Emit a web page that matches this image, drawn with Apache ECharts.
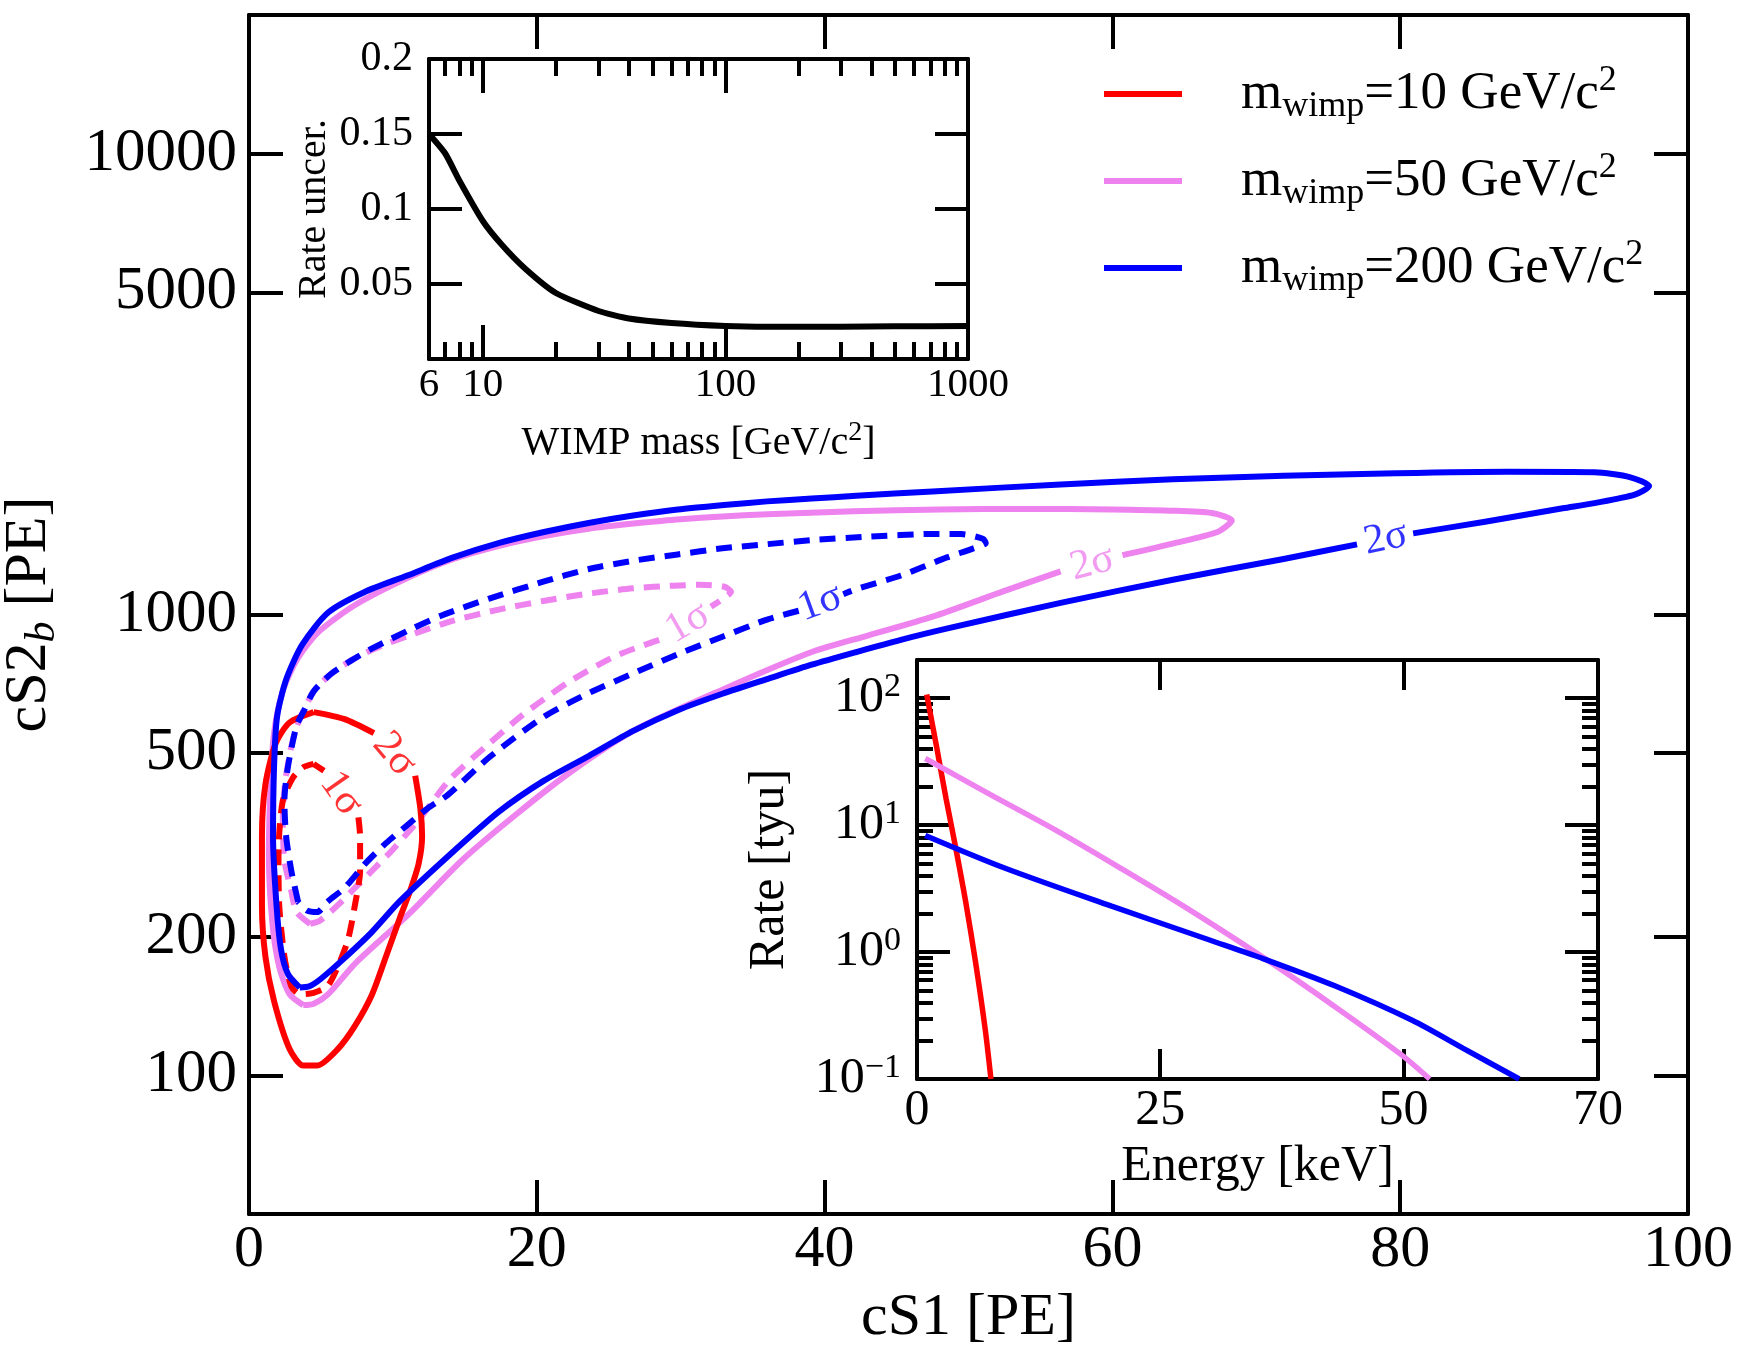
<!DOCTYPE html>
<html><head><meta charset="utf-8">
<script src="https://cdn.jsdelivr.net/npm/echarts@6/dist/echarts.min.js"></script>
<style>html,body{margin:0;padding:0;background:#fff}#c{width:1751px;height:1364px}</style>
</head><body><div id="c"></div>
<script>
const FONT = '"Liberation Serif","Times New Roman",serif';

// ---------- main panel: contours (cS1 [PE], cS2b [PE]) ; null = gap for inline label ----------
const red2Sigma = [[4.49,614],[6.64,593],[8.68,553],null,[11.55,447],[11.91,379],[12.03,330],[11.79,288],[11.19,251],[10.47,219],[9.52,181],[8.56,150],[7.36,128],[6.17,114],[4.73,105],[3.77,105],[2.82,114],[1.74,145],[1.14,181],[0.90,234],[0.90,330],[1.14,428],[1.86,526],[2.82,583],[4.49,614]];
const red1Sigma = [[4.49,474],[5.21,458],null,[7.60,363],[7.72,330],[7.72,278],[7.36,234],[6.88,197],[6.17,172],[5.45,156],[4.49,151],[3.53,150],[2.94,156],[2.46,181],[2.10,234],[2.05,303],[2.34,393],[3.06,443],[3.77,466],[4.49,474]];
const violet2Sigma = [[3.77,142],[2.82,150],[2.10,172],[1.62,215],[1.38,303],[1.50,428],[1.74,553],[2.34,681],[3.30,795],[4.8,915],[7.4,1050],[11.0,1200],[14.2,1320],[17.4,1410],[20.5,1480],[23.6,1535],[26.7,1575],[30,1610],[36,1650],[42,1675],[48,1690],[54,1695],[60,1690],[64,1680],[66.9,1660],[68.3,1600],[67.3,1510],[64.2,1425],[60.7,1345],null,[56.4,1240],[52.5,1125],[47.5,989],[43,900],[39.1,829],[32.9,687],[26.7,559],[22.3,454],[18.6,369],[14.86,294],[11.12,224],[7.39,175],[5.5,150],[4.5,143],[3.77,142]];
const violet1Sigma = [[4.25,213],[3.30,226],[2.94,251],[2.46,293],[2.35,360],[2.50,430],[2.9,510],[3.4,580],[4.5,681],[5.7,743],[7.1,795],[8.6,840],[11.1,900],[14.2,970],[17.35,1025],[20.45,1070],[23.6,1110],[26.7,1140],[29.5,1155],[31.3,1160],[33.0,1150],[33.5,1120],[33.0,1085],[32.1,1040],null,[28.5,881],[25.4,811],[22.3,716],[20.5,655],[18.8,598],[16.7,525],[14.0,440],[11.91,362],[10.0,309],[8.56,278],[7.36,255],[6.17,234],[4.97,217],[4.25,213]];
const blue2Sigma = [[3.53,155],[2.70,166],[2.22,188],[1.91,234],[1.67,330],[1.74,466],[1.95,600],[2.6,725],[3.7,860],[5.5,1010],[8.0,1118],[11.0,1215],[14.2,1330],[17.4,1430],[20.5,1510],[23.6,1580],[26.7,1640],[29.8,1690],[33.0,1728],[36.0,1760],[39.1,1785],[42.2,1810],[47.5,1850],[56.4,1915],[64.2,1965],[71.9,2000],[79.7,2025],[87.5,2040],[93.5,2035],[96.0,1985],[97.3,1900],[96.3,1820],[93.5,1745],[91.3,1700],[85.9,1590],[80.9,1500],null,[77.0,1420],[71.9,1320],[64.2,1190],[56.4,1060],[48.7,935],[45.3,881],[42.2,829],[39.1,778],[36.0,724],[32.9,673],[29.8,620],[26.7,559],[23.6,493],[20.5,436],[17.35,373],[14.2,306],[10.5,239],[8.5,204],[6.5,178],[5.0,162],[4.2,156],[3.53,155]];
const blue1Sigma = [[3.41,238],[2.94,278],[2.58,330],[2.46,393],[2.70,466],[3.30,573],[3.77,614],[4.49,681],[5.69,743],[7.12,795],[8.56,844],[11.43,935],[13.34,994],[16.7,1083],[20.45,1178],[23.56,1254],[26.68,1308],[29.79,1350],[32.9,1392],[36.0,1421],[39.1,1450],[43.0,1475],[47.5,1496],[49.5,1495],[51.0,1460],[51.2,1430],[50.3,1390],[48.5,1330],[45.3,1215],[42.2,1135],[41.3,1107],null,[38.2,1019],[36.0,975],[32.9,895],[29.8,820],[26.7,745],[23.6,675],[20.5,600],[16.7,490],[13.82,406],[12.39,379],[10.95,348],[9.52,319],[8.08,288],[6.64,255],[5.45,238],[4.73,226],[4.01,228],[3.41,238]];

// inline contour labels
const sigmaLabelText  = ['2\u03c3','1\u03c3','2\u03c3','1\u03c3','2\u03c3','1\u03c3'];
const sigmaLabelCS1   = [10.1, 6.4, 58.6, 30.5, 79.0, 39.7];
const sigmaLabelCS2   = [497, 408, 1290, 960, 1460, 1060];
const sigmaLabelAngle = [-50, -55, 15, 30, 12, 20];
const sigmaLabelColor = ['#ff0000','#ff0000','#ee82ee','#ee82ee','#0000ff','#0000ff'];

const cs1Ticks = [0,20,40,60,80,100];
const cs2Ticks = [100,200,500,1000,5000,10000];
const legendMasses = ['10','50','200'];

// ---------- upper inset: rate uncertainty vs WIMP mass ----------
const wimpMass   = [6,7,8,10,12,15,20,30,40,60,100,150,200,300,500,1000];
const rateUncer  = [0.150,0.137,0.119,0.092,0.076,0.060,0.044,0.032,0.027,0.024,0.022,0.0215,0.0215,0.0215,0.0218,0.022];
const massLabelTicks = [6,10,100,1000];
const massMajorTicks = [10,100];
const massMinorTicks = [7,8,9,20,30,40,50,60,70,80,90,200,300,400,500,600,700,800,900];
const uncerTicks = [0.05,0.1,0.15,0.2];

// ---------- lower inset: rate vs energy ----------
const energyRed    = [1.0,2.0,3.0,4.0,5.0,6.0,7.0,7.6];
const rateRed      = [107,42,16,6.5,2.5,0.85,0.25,0.1];
const energyViolet = [0.85,7.5,14.3,21.1,27.4,35.2,43.0,49.8,52.7];
const rateViolet   = [33.5,17.5,9.1,4.5,2.3,0.95,0.37,0.155,0.1];
const energyBlue   = [0.85,9,20,30,35.2,43,50.9,56.1,61.9];
const rateBlue     = [8.3,4.6,2.3,1.25,0.91,0.54,0.29,0.175,0.1];
const energyLabelTicks = [0,25,50,70];
const energyTicks = [25,50];
const rateMajorTicks = [0.1,1,10,100];
const rateMinorTicks = [0.2,0.3,0.4,0.5,0.6,0.7,0.8,0.9,2,3,4,5,6,7,8,9,20,30,40,50,60,70,80,90,200];

// ---------- build ----------
const BLACK = '#000';
const pairs = a => a.map(p => p === null ? '-' : p);
const zip = (xs, ys) => xs.map((x, i) => [x, ys[i]]);
const frame = w => ({show: true, onZero: false, lineStyle: {color: BLACK, width: w}});
const noLine = {show: false, onZero: false};
const ticks = (len, vals) => { const t = {show: true, inside: true, length: len, lineStyle: {color: BLACK, width: 4}}; if (vals) t.customValues = vals; return t; };
const noLabel = {show: false};
const txt = (size) => ({fontSize: size, fontFamily: FONT, color: BLACK});
const plain = v => String(v);

const contourStyle = (color, dashed) => ({color: color, width: 6, type: dashed ? [16, 10] : 'solid', cap: 'butt', join: 'round'});
function contour(name, data, color, dashed) {
  return {name: name, type: 'line', xAxisIndex: 0, yAxisIndex: 0, data: pairs(data), showSymbol: false, symbol: 'none',
    connectNulls: false, smooth: 0.25, lineStyle: contourStyle(color, dashed), itemStyle: {color: color}, silent: true, animation: false, z: 3};
}

const labelData = sigmaLabelText.map((t, i) => ({
  value: [sigmaLabelCS1[i], sigmaLabelCS2[i]],
  label: {show: true, formatter: t, rotate: sigmaLabelAngle[i], color: sigmaLabelColor[i], fontSize: 42, fontFamily: FONT, position: 'inside'}
}));

const supRich = {
  a: {fontSize: 40, fontFamily: FONT, color: BLACK, lineHeight: 48},
  s: {fontSize: 28, fontFamily: FONT, color: BLACK, lineHeight: 26, verticalAlign: 'top'}
};

const option = {
  animation: false,
  backgroundColor: '#fff',
  textStyle: {fontFamily: FONT, color: BLACK},
  grid: [
    {left: 249, top: 15, width: 1439, height: 1199, containLabel: false, outerBoundsMode: 'none'},
    {left: 429, top: 59, width: 539, height: 300, containLabel: false, outerBoundsMode: 'none'},
    {left: 917, top: 660, width: 681, height: 419, containLabel: false, outerBoundsMode: 'none', show: true, backgroundColor: '#fff', borderWidth: 0}
  ],
  legend: {
    data: legendMasses, orient: 'vertical', left: 1099, top: 58, itemWidth: 78, itemHeight: 6, itemGap: 25, icon: 'rect',
    selectedMode: false,
    formatter: n => '{g|}{m|m}{sub|wimp}{m|=' + n + ' GeV/c}{sup|2}',
    textStyle: {fontFamily: FONT, color: BLACK, rich: {
      g: {width: 54},
      m: {fontSize: 53, fontFamily: FONT, color: BLACK, lineHeight: 62},
      sub: {fontSize: 36, fontFamily: FONT, color: BLACK, lineHeight: 36, verticalAlign: 'bottom'},
      sup: {fontSize: 36, fontFamily: FONT, color: BLACK, lineHeight: 30, verticalAlign: 'top'}
    }}
  },
  xAxis: [
    {gridIndex: 0, type: 'value', min: 0, max: 100, interval: 20, position: 'bottom', axisLine: frame(4), axisTick: ticks(34),
      axisLabel: Object.assign({margin: 6, customValues: cs1Ticks, formatter: plain}, txt(60)), splitLine: {show: false},
      name: 'cS1 [PE]', nameLocation: 'middle', nameGap: 74, nameMoveOverlap: false, nameTextStyle: txt(60)},
    {gridIndex: 0, type: 'value', min: 0, max: 100, interval: 20, position: 'top', axisLine: frame(4), axisTick: ticks(34),
      axisLabel: noLabel, splitLine: {show: false}},
    {gridIndex: 1, type: 'log', logBase: 10, min: 6, max: 1000, position: 'bottom', axisLine: frame(4), axisTick: ticks(34, massMajorTicks),
      axisLabel: Object.assign({margin: 6, customValues: massLabelTicks, formatter: plain}, txt(41)), splitLine: {show: false},
      name: '{a|WIMP mass [GeV/c}{s|2}{a|]}', nameLocation: 'middle', nameGap: 60, nameMoveOverlap: false,
      nameTextStyle: Object.assign({rich: supRich}, txt(40))},
    {gridIndex: 1, type: 'log', logBase: 10, min: 6, max: 1000, position: 'bottom', axisLine: noLine, axisTick: ticks(17, massMinorTicks),
      axisLabel: noLabel, splitLine: {show: false}},
    {gridIndex: 1, type: 'log', logBase: 10, min: 6, max: 1000, position: 'top', axisLine: frame(4), axisTick: ticks(34, massMajorTicks),
      axisLabel: noLabel, splitLine: {show: false}},
    {gridIndex: 1, type: 'log', logBase: 10, min: 6, max: 1000, position: 'top', axisLine: noLine, axisTick: ticks(17, massMinorTicks),
      axisLabel: noLabel, splitLine: {show: false}},
    {gridIndex: 2, type: 'value', min: 0, max: 70, position: 'bottom', axisLine: frame(4), axisTick: ticks(30, energyTicks),
      axisLabel: Object.assign({margin: 7, customValues: energyLabelTicks, formatter: plain}, txt(50)), splitLine: {show: false},
      name: 'Energy [keV]', nameLocation: 'middle', nameGap: 63, nameMoveOverlap: false, nameTextStyle: txt(50)},
    {gridIndex: 2, type: 'value', min: 0, max: 70, position: 'top', axisLine: frame(4), axisTick: ticks(30, energyTicks),
      axisLabel: noLabel, splitLine: {show: false}}
  ],
  yAxis: [
    {gridIndex: 0, type: 'log', logBase: 10, min: 50, max: 20000, position: 'left', axisLine: frame(4), axisTick: ticks(34, cs2Ticks),
      axisLabel: Object.assign({margin: 12, customValues: cs2Ticks, formatter: plain}, txt(61)), splitLine: {show: false},
      name: '{a|cS2}{b|b}{a| [PE]}', nameLocation: 'middle', nameGap: 185, nameMoveOverlap: false,
      nameTextStyle: Object.assign({rich: {
        a: {fontSize: 60, fontFamily: FONT, color: BLACK, lineHeight: 70},
        b: {fontSize: 42, fontFamily: FONT, fontStyle: 'italic', color: BLACK, lineHeight: 42, verticalAlign: 'bottom'}
      }}, txt(60))},
    {gridIndex: 0, type: 'log', logBase: 10, min: 50, max: 20000, position: 'right', axisLine: frame(4), axisTick: ticks(34, cs2Ticks),
      axisLabel: noLabel, splitLine: {show: false}},
    {gridIndex: 1, type: 'value', min: 0, max: 0.2, interval: 0.05, position: 'left', axisLine: frame(4), axisTick: ticks(33, uncerTicks),
      axisLabel: Object.assign({margin: 16, customValues: uncerTicks, formatter: plain}, txt(42)), splitLine: {show: false},
      name: 'Rate uncer.', nameLocation: 'middle', nameGap: 95, nameMoveOverlap: false, nameTextStyle: txt(40)},
    {gridIndex: 1, type: 'value', min: 0, max: 0.2, interval: 0.05, position: 'right', axisLine: frame(4), axisTick: ticks(33, uncerTicks),
      axisLabel: noLabel, splitLine: {show: false}},
    {gridIndex: 2, type: 'log', logBase: 10, min: 0.1, max: 200, position: 'left', axisLine: frame(4), axisTick: ticks(33, rateMajorTicks),
      axisLabel: Object.assign({margin: 16, customValues: rateMajorTicks,
        formatter: v => { const e = Math.round(Math.log10(v)); return '{b|10}{e|' + (e < 0 ? '\u2212' + (-e) : e) + '}'; },
        rich: {b: {fontSize: 50, fontFamily: FONT, color: BLACK, lineHeight: 56}, e: {fontSize: 34, fontFamily: FONT, color: BLACK, lineHeight: 30, verticalAlign: 'top'}}
      }, txt(50)), splitLine: {show: false},
      name: 'Rate [tyu]', nameLocation: 'middle', nameGap: 122, nameMoveOverlap: false, nameTextStyle: txt(50)},
    {gridIndex: 2, type: 'log', logBase: 10, min: 0.1, max: 200, position: 'left', axisLine: noLine, axisTick: ticks(16, rateMinorTicks),
      axisLabel: noLabel, splitLine: {show: false}},
    {gridIndex: 2, type: 'log', logBase: 10, min: 0.1, max: 200, position: 'right', axisLine: frame(4), axisTick: ticks(33, rateMajorTicks),
      axisLabel: noLabel, splitLine: {show: false}},
    {gridIndex: 2, type: 'log', logBase: 10, min: 0.1, max: 200, position: 'right', axisLine: noLine, axisTick: ticks(16, rateMinorTicks),
      axisLabel: noLabel, splitLine: {show: false}}
  ],
  series: [
    contour('50', violet2Sigma, '#ee82ee', false),
    contour('v1', violet1Sigma, '#ee82ee', true),
    contour('10', red2Sigma, '#ff0000', false),
    contour('r1', red1Sigma, '#ff0000', true),
    contour('200', blue2Sigma, '#0000ff', false),
    contour('b1', blue1Sigma, '#0000ff', true),
    {name: 'labels', type: 'scatter', xAxisIndex: 0, yAxisIndex: 0, data: labelData, symbolSize: 1,
      itemStyle: {color: 'rgba(0,0,0,0)'}, silent: true, z: 5},
    {name: 'uncer', type: 'line', xAxisIndex: 2, yAxisIndex: 2, data: zip(wimpMass, rateUncer), showSymbol: false, symbol: 'none', smooth: 0.2,
      lineStyle: {color: BLACK, width: 6}, itemStyle: {color: BLACK}, silent: true},
    {name: 'eRed', type: 'line', xAxisIndex: 6, yAxisIndex: 4, data: zip(energyRed, rateRed), showSymbol: false, symbol: 'none', smooth: 0.3,
      lineStyle: {color: '#ff0000', width: 5.5}, itemStyle: {color: '#ff0000'}, silent: true},
    {name: 'eViolet', type: 'line', xAxisIndex: 6, yAxisIndex: 4, data: zip(energyViolet, rateViolet), showSymbol: false, symbol: 'none', smooth: 0.3,
      lineStyle: {color: '#ee82ee', width: 5.5}, itemStyle: {color: '#ee82ee'}, silent: true},
    {name: 'eBlue', type: 'line', xAxisIndex: 6, yAxisIndex: 4, data: zip(energyBlue, rateBlue), showSymbol: false, symbol: 'none', smooth: 0.3,
      lineStyle: {color: '#0000ff', width: 5.5}, itemStyle: {color: '#0000ff'}, silent: true}
  ]
};

const chart = echarts.init(document.getElementById('c'), null, {renderer: 'canvas'});
chart.setOption(option);
</script></body></html>
